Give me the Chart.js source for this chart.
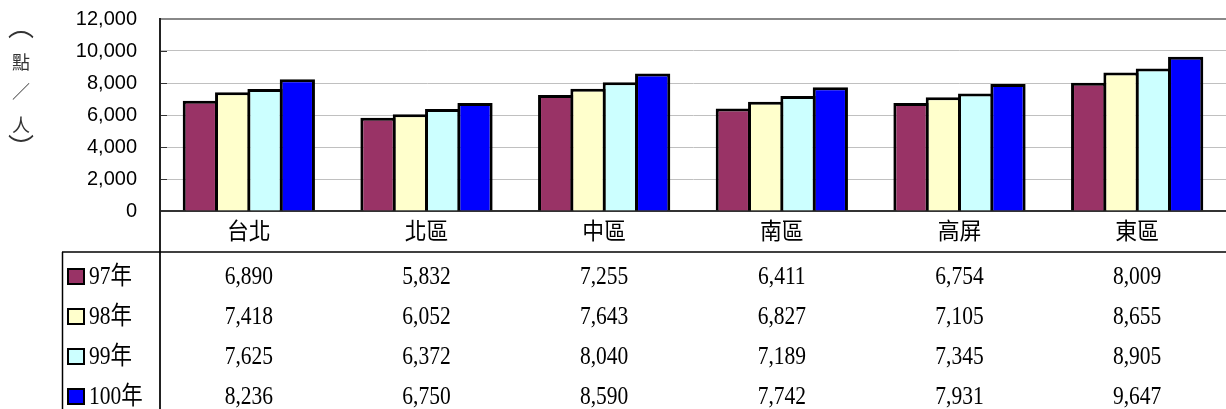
<!DOCTYPE html>
<html><head><meta charset="utf-8">
<script src="https://cdn.jsdelivr.net/npm/chart.js@4/dist/chart.umd.min.js"></script>
<style>html,body{margin:0;padding:0;background:#fff;overflow:hidden}canvas{display:block}</style>
</head><body>
<canvas id="c" width="1226" height="409"></canvas>
<script>
const categories = ['台北', '北區', '中區', '南區', '高屏', '東區'];
const seriesNames = ['97年', '98年', '99年', '100年'];
const v97 = [6890, 5832, 7255, 6411, 6754, 8009];
const v98 = [7418, 6052, 7643, 6827, 7105, 8655];
const v99 = [7625, 6372, 8040, 7189, 7345, 8905];
const v100 = [8236, 6750, 8590, 7742, 7931, 9647];
const yTicks = [0, 2000, 4000, 6000, 8000, 10000, 12000];
const yTitle = ['︵', '點', '／', '人', '︶'];
const colors = ['#993366', '#FFFFCC', '#CCFFFF', '#0000FF'];
const seriesValues = [v97, v98, v99, v100];

const fmt = n => n.toLocaleString('en-US');
const TABLE_FONT = '"Liberation Serif", "Noto Sans CJK TC", serif';

function drawCondensed(ctx, text, x, y, size, sx) {
  ctx.save();
  ctx.translate(x, y);
  ctx.scale(sx, 1);
  ctx.font = size + 'px ' + TABLE_FONT;
  ctx.textBaseline = 'middle';
  ctx.textAlign = 'left';
  ctx.fillText(text, 0, 0);
  ctx.restore();
}
function textW(ctx, text, size, sx) {
  ctx.save();
  ctx.font = size + 'px ' + TABLE_FONT;
  const w = ctx.measureText(text).width * sx;
  ctx.restore();
  return w;
}
// draw a glyph so that its ink box is centred on (x, y)
function drawInkCentered(ctx, ch, x, y) {
  ctx.textAlign = 'left';
  ctx.textBaseline = 'alphabetic';
  const m = ctx.measureText(ch);
  const l = m.actualBoundingBoxLeft, r = m.actualBoundingBoxRight;
  const a = m.actualBoundingBoxAscent, d = m.actualBoundingBoxDescent;
  ctx.fillText(ch, x - (r - l) / 2, y + (a - d) / 2);
}

const tablePlugin = {
  id: 'tablePlugin',
  afterDraw(chart) {
    const ctx = chart.ctx;
    const area = chart.chartArea;
    const xs = chart.scales.x, ys = chart.scales.y;
    const W = chart.width, H = chart.height;
    ctx.save();
    ctx.strokeStyle = '#888';
    ctx.lineWidth = 2;
    ctx.beginPath(); ctx.moveTo(area.left, area.top); ctx.lineTo(W, area.top); ctx.stroke();
    ctx.strokeStyle = '#333';
    ctx.lineWidth = 1;
    yTicks.forEach(t => {
      if (t === 0 || t === 12000) return;
      const py = Math.round(ys.getPixelForValue(t)) + 0.5;
      ctx.beginPath(); ctx.moveTo(area.left, py); ctx.lineTo(area.left + 7, py); ctx.stroke();
    });
    ctx.strokeStyle = '#222';
    ctx.lineWidth = 2;
    ctx.beginPath(); ctx.moveTo(area.left, area.top - 1); ctx.lineTo(area.left, H); ctx.stroke();
    ctx.strokeStyle = '#000';
    ctx.lineWidth = 1.5;
    const rowTop = 252;
    ctx.beginPath(); ctx.moveTo(62, rowTop); ctx.lineTo(W, rowTop); ctx.stroke();
    ctx.beginPath(); ctx.moveTo(62.5, rowTop); ctx.lineTo(62.5, H); ctx.stroke();

    ctx.fillStyle = '#000';
    const size = 25, sx = 0.86;
    categories.forEach((c, i) => {
      const cx = xs.getPixelForValue(i);
      const w = textW(ctx, c, 23, 0.95);
      ctx.fillStyle = '#000';
      drawCondensed(ctx, c, cx - w / 2, 233, 23, 0.95);
    });
    seriesNames.forEach((name, j) => {
      const cy = 276 + 40 * j;
      ctx.fillStyle = colors[j];
      ctx.fillRect(67, cy - 8, 18, 17);
      ctx.strokeStyle = '#000';
      ctx.lineWidth = 2;
      ctx.strokeRect(68, cy - 7, 16, 15);
      ctx.fillStyle = '#000';
      drawCondensed(ctx, name, 89, cy + 1, size, sx);
      seriesValues[j].forEach((v, i) => {
        const cx = xs.getPixelForValue(i);
        const t = fmt(v);
        const w = textW(ctx, t, size, sx);
        drawCondensed(ctx, t, cx - w / 2, cy + 1, size, sx);
      });
    });
    // vertical axis title
    ctx.fillStyle = '#333';
    const ty = [35, 62, 91, 124, 138];
    yTitle.forEach((ch, k) => {
      ctx.font = (k === 0 || k === 4 ? 26 : 18) + 'px "Noto Sans CJK TC", sans-serif';
      drawInkCentered(ctx, ch, 21, ty[k]);
    });
    ctx.restore();
  }
};

new Chart(document.getElementById('c'), {
  type: 'bar',
  data: {
    labels: categories,
    datasets: seriesNames.map((n, j) => ({
      label: n,
      data: seriesValues[j],
      backgroundColor: colors[j],
      borderColor: '#000',
      borderWidth: 3,
      categoryPercentage: 0.728,
      barPercentage: 1.09
    }))
  },
  options: {
    responsive: false,
    animation: false,
    devicePixelRatio: 1,
    layout: { padding: { top: 19, right: 0, left: 0, bottom: 0 } },
    plugins: { legend: { display: false }, tooltip: { enabled: false } },
    scales: {
      x: {
        grid: { display: false },
        ticks: { display: false },
        border: { display: true, color: '#333', width: 2 },
        afterFit: s => { s.height = 198; s.paddingLeft = 0; s.paddingRight = 0; }
      },
      y: {
        min: 0, max: 12000,
        afterBuildTicks: s => { s.ticks = yTicks.map(v => ({ value: v })); },
        ticks: {
          callback: v => fmt(v),
          font: { family: '"Liberation Sans", Arial, sans-serif', size: 20 },
          color: '#000',
          padding: 23
        },
        grid: {
          drawTicks: false,
          color: '#c0c0c0',
          lineWidth: 1
        },
        border: { display: true, color: '#333', width: 2 },
        afterFit: s => { s.width = 160; s.paddingTop = 0; s.paddingBottom = 0; }
      }
    }
  },
  plugins: [tablePlugin]
});
</script>
</body></html>
